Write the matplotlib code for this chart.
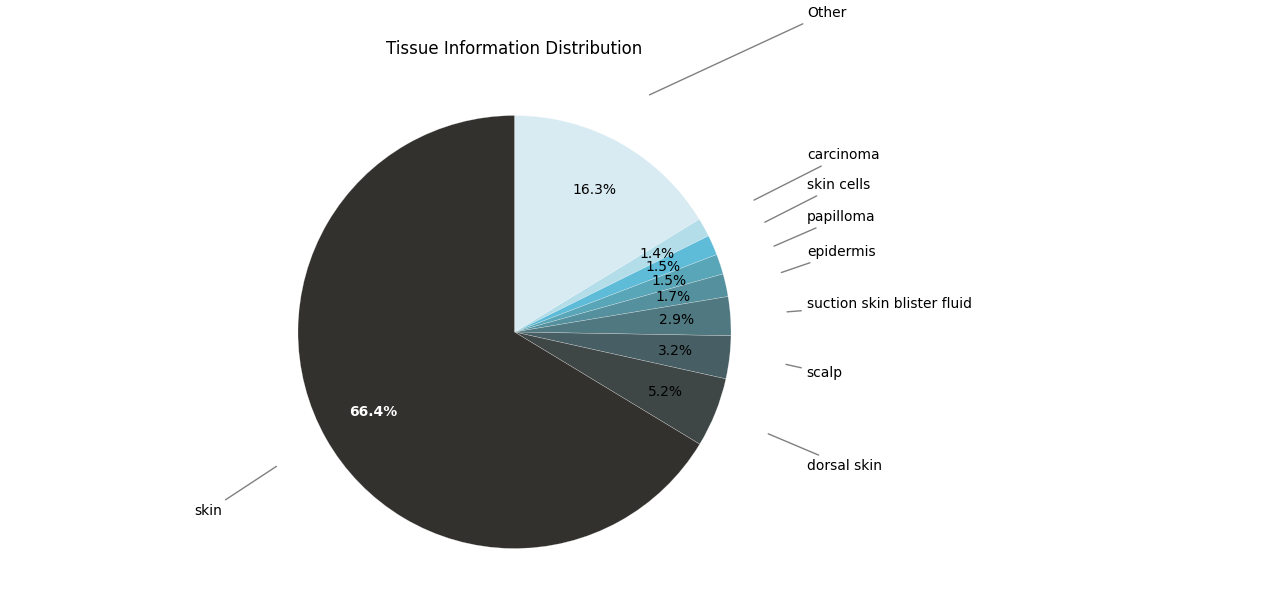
import matplotlib
matplotlib.use("Agg")
import matplotlib.pyplot as plt
import numpy as np

# data
tissues = ["Other", "carcinoma", "skin cells", "papilloma", "epidermis",
           "suction skin blister fluid", "scalp", "dorsal skin", "skin"]
shares = [16.3, 1.4, 1.5, 1.5, 1.7, 2.9, 3.2, 5.2, 66.4]
colors = ["#d8ebf2", "#b3dde9", "#5ebcd8", "#58a6b8", "#54909d",
          "#4f7880", "#475f64", "#3e4646", "#33312d"]
# label heights (after de-overlap), in pie radius units
label_y = [1.477, 0.819, 0.681, 0.532, 0.370, 0.130, -0.190, -0.620, -0.829]

total = sum(shares)

fig = plt.figure(figsize=(12.8, 6.16), dpi=100)
W, H = 1280, 616
cx, cy, R = 514.5, 332, 216.5
lim = 1.25
ax = fig.add_axes([(cx - lim * R) / W, (H - cy - lim * R) / H,
                   2 * lim * R / W, 2 * lim * R / H])

wedges, texts, autotexts = ax.pie(
    shares, colors=colors, startangle=90, counterclock=False,
    autopct=lambda p: f"{p * total / 100:.1f}%", pctdistance=0.75,
    wedgeprops=dict(edgecolor=(1, 1, 1, 0.5), linewidth=0.3),
    textprops=dict(fontsize=10),
)
ax.set_xlim(-lim, lim)
ax.set_ylim(-lim, lim)
ax.set_aspect("equal")
ax.axis("off")

autotexts[-1].set_color("white")
autotexts[-1].set_fontweight("bold")

# leader lines + labels
for w, name, ly in zip(wedges, tissues, label_y):
    ang = np.deg2rad((w.theta1 + w.theta2) / 2)
    x, y = np.cos(ang), np.sin(ang)
    side = 1 if x >= 0 else -1
    ax.annotate(name, xy=(1.25 * x, 1.25 * y), xytext=(1.35 * side, ly * 0.998),
                ha="left" if side > 0 else "right", va="center", fontsize=10,
                arrowprops=dict(arrowstyle="-", color="gray", lw=1),
                annotation_clip=False)

fig.text(cx / W, 1 - 49 / H, "Tissue Information Distribution",
         ha="center", va="center", fontsize=12)

plt.savefig("out.png", dpi=100)
